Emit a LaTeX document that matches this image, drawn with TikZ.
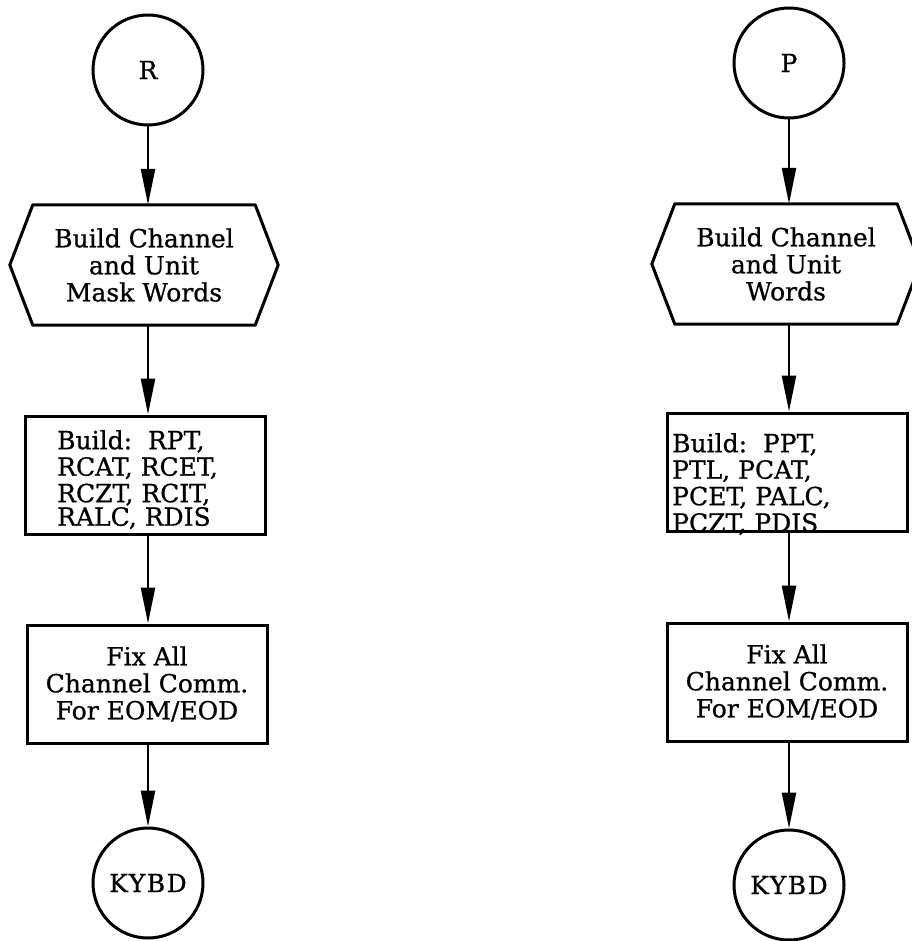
\documentclass[tikz,border=0pt]{standalone}
\usepackage{fontspec}
\setmainfont{DejaVu Serif}[FakeBold=0.8]
\usetikzlibrary{arrows.meta}
\begin{document}
\begin{tikzpicture}[x=1pt,y=-1pt,
  conn/.style={circle, draw, line width=3pt, minimum size=110pt, inner sep=0pt, font=\fontsize{25}{27}\selectfont\addfontfeature{LetterSpace=6}},
  box/.style={draw, line width=3pt, minimum width=240pt, minimum height=118pt, inner sep=0pt},
  hexbox/.style={draw=none, minimum width=268pt, minimum height=120pt, inner sep=0pt},
  hexline/.style={line width=3pt, line join=round},
  lbl/.style={align=center, font=\fontsize{25}{27}\selectfont, inner sep=0pt},
  lbll/.style={align=left, font=\fontsize{25}{26.5}\selectfont, inner sep=0pt},
  flow/.style={line width=2.4pt, -{Triangle[length=36pt,width=14pt]}},
]
\useasboundingbox (0,0) rectangle (911,941);

% ---------- left column ----------
\node[conn] (R) at (148,70) {R};
\node[hexbox, lbl] (hexL) at (144,265) {Build Channel\\and Unit\\Mask Words};
\draw[hexline] ([xshift=23pt]hexL.north west) -- ([xshift=-23pt]hexL.north east) -- (hexL.east)
  -- ([xshift=-23pt]hexL.south east) -- ([xshift=23pt]hexL.south west) -- (hexL.west) -- cycle;
\node[box] (bL) at (145,475) {};
\node[lbll, anchor=north west] (bLt) at (57,430) {Build:\ \ RPT,\\RCAT, RCET,\\RCZT, RCIT,\\[-3pt]RALC, RDIS};
\node[box, lbl] (fL) at (147,684) {Fix All\\Channel Comm.\\For EOM/EOD};
\node[conn] (kL) at (148,883) {KYBD};

\draw[flow] (R.south) -- (R.south |- hexL.north);
\draw[flow] (R.south |- hexL.south) -- (R.south |- bL.north);
\draw[flow] (R.south |- bL.south) -- (R.south |- fL.north);
\draw[flow] (R.south |- fL.south) -- (kL.north);

% ---------- right column ----------
\node[conn] (P) at (789,63) {P};
\node[hexbox, lbl] (hexR) at (786,264) {Build Channel\\and Unit\\Words};
\draw[hexline] ([xshift=23pt]hexR.north west) -- ([xshift=-23pt]hexR.north east) -- (hexR.east)
  -- ([xshift=-23pt]hexR.south east) -- ([xshift=23pt]hexR.south west) -- (hexR.west) -- cycle;
\node[box] (bR) at (787,472) {};
\node[lbll, anchor=north west] (bRt) at (672,433) {Build:\ \ PPT,\\PTL, PCAT,\\PCET, PALC,\\PCZT, PDIS};
\node[box, lbl] (fR) at (787,682) {Fix All\\Channel Comm.\\For EOM/EOD};
\node[conn] (kR) at (789,885) {KYBD};

\draw[flow] (P.south) -- (P.south |- hexR.north);
\draw[flow] (P.south |- hexR.south) -- (P.south |- bR.north);
\draw[flow] (P.south |- bR.south) -- (P.south |- fR.north);
\draw[flow] (P.south |- fR.south) -- (kR.north);
\end{tikzpicture}
\end{document}
